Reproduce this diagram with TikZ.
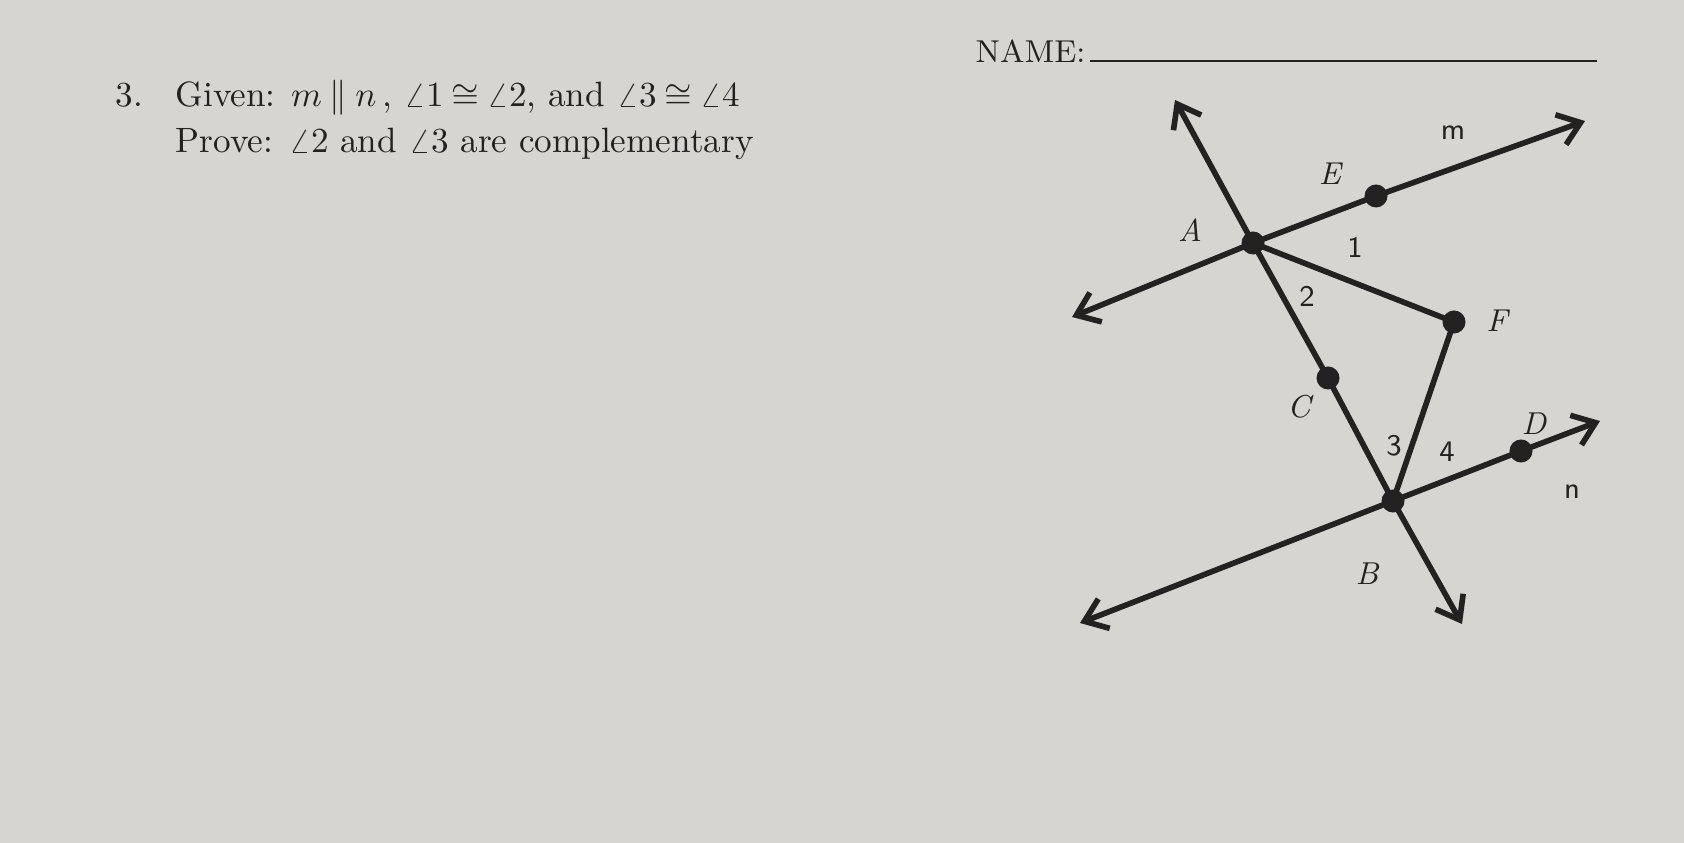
\documentclass[tikz,border=0pt]{standalone}
\usetikzlibrary{arrows.meta,positioning}
\definecolor{paper}{RGB}{214,213,209}
\definecolor{ink}{RGB}{36,33,33}

\begin{document}
\begin{tikzpicture}[x=0.01cm,y=-0.01cm,
    ray/.style={ink, line width=1.6pt, line cap=round,
        {Straight Barb[length=6pt,width=9pt,line width=1.6pt]}-{Straight Barb[length=6pt,width=9pt,line width=1.6pt]}},
    seg/.style={ink, line width=1.6pt, line cap=round},
    dot/.style={circle, fill=ink, inner sep=0pt, minimum size=0.23cm},
    ptlabel/.style={text=ink, font=\fontsize{9}{10}\selectfont\itshape},
    numlabel/.style={text=ink, font=\fontsize{8.5}{10}\selectfont\sffamily},
    txt/.style={text=ink, anchor=base west, inner sep=0pt, font=\fontsize{10}{12}\selectfont}]

% Hintergrund
\fill[paper] (0,0) rectangle (1684,843);
\useasboundingbox (0,0) rectangle (1684,843);

% Text
\node[txt, font=\fontsize{9}{11}\selectfont] (nametag) at (975,63) {NAME:};
\coordinate (nameL) at (1090,61);
\coordinate (nameR) at (1597,61);
\draw[ink, line width=0.7pt] (nameL) -- (nameR);
\node[txt] (num) at (115,107) {3.};
\node[txt] (given) at (175,107) {\thickmuskip=4mu Given: $m \parallel n$\,, $\angle 1 \cong \angle 2$, and $\angle 3 \cong \angle 4$};
\node[txt] (prove) at (175,153) {Prove: $\angle 2$ and $\angle 3$ are complementary};

% Punkte
\node[dot] (A) at (1253,243) {};
\node[dot] (E) at (1376,196) {};
\node[dot] (F) at (1454,322) {};
\node[dot] (C) at (1328,378) {};
\node[dot] (B) at (1393,501) {};
\node[dot] (D) at (1521,451) {};

% Pfeilenden
\coordinate (ABtop) at (1175,100);
\coordinate (ABbot) at (1462,624);
\coordinate (mL) at (1072,317);
\coordinate (mR) at (1585,121);
\coordinate (nL) at (1080,623);
\coordinate (nR) at (1600,421);

% Geraden
\draw[ray] (ABtop) -- (A.center) -- (C.center) -- (B.center) -- (ABbot);
\draw[ray] (mL) -- (A.center) -- (E.center) -- (mR);
\draw[ray] (nL) -- (B.center) -- (D.center) -- (nR);
\draw[seg] (A.center) -- (F.center) -- (B.center);

% Beschriftung
\node[ptlabel] (lA) at (1190,230) {A};
\node[ptlabel] (lE) at (1330,174) {E};
\node[ptlabel] (lF) at (1497,321) {F};
\node[ptlabel] (lC) at (1299,407) {C};
\node[ptlabel] (lD) at (1534,424) {D};
\node[ptlabel] (lB) at (1367,574) {B};
\node[numlabel] (l1) at (1355,247) {1};
\node[numlabel] (l2) at (1307,296) {2};
\node[numlabel] (l3) at (1394,446) {3};
\node[numlabel] (l4) at (1447,452) {4};
\node[numlabel] (lm) at (1453,133) {m};
\node[numlabel] (ln) at (1572,492) {n};

\end{tikzpicture}
\end{document}
